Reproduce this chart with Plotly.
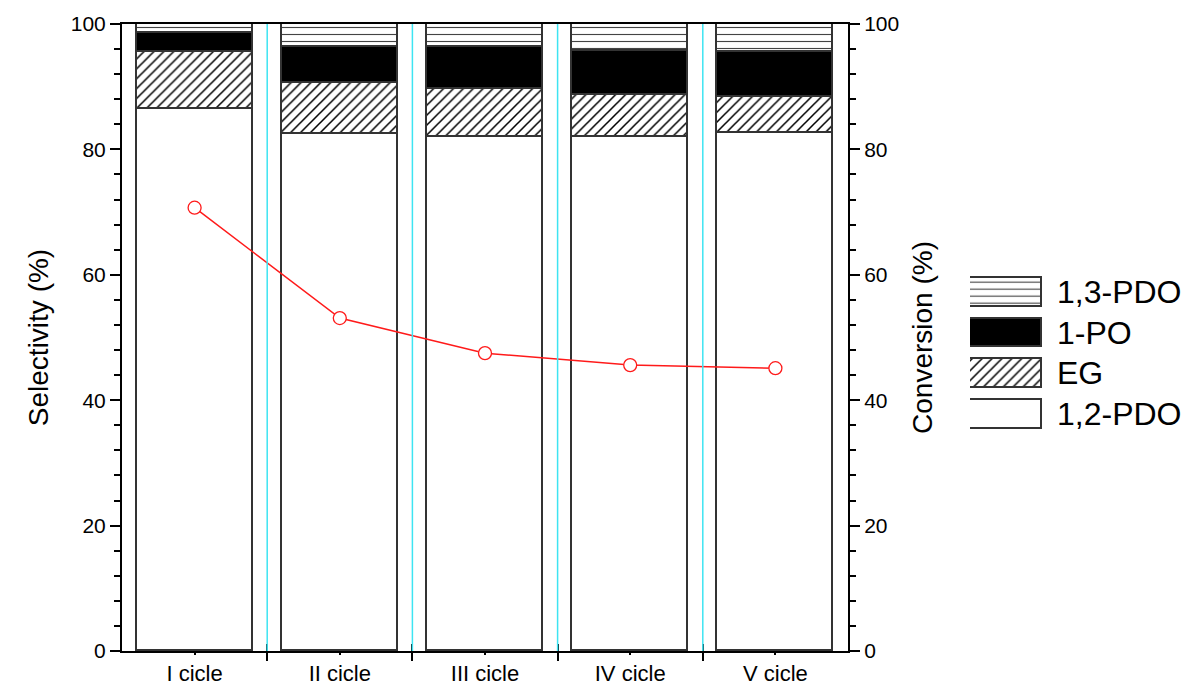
import plotly.graph_objects as go

cycles = ["I cicle", "II cicle", "III cicle", "IV cicle", "V cicle"]
pdo12 = [86.4, 82.5, 82.0, 82.0, 82.6]
eg = [9.1, 8.1, 7.7, 6.6, 5.8]
po1 = [3.0, 5.8, 6.6, 7.1, 7.1]
pdo13 = [1.5, 3.6, 3.7, 4.3, 4.5]
conversion = [70.7, 53.1, 47.5, 45.6, 45.1]

series_names = ["1,2-PDO", "EG", "1-PO", "1,3-PDO"]
series_values = [pdo12, eg, po1, pdo13]

FONT = "Liberation Sans, Arial, sans-serif"
OUTLINE = "#333333"

styles = {
    "1,2-PDO": dict(color="white"),
    "EG": dict(color="white", pattern=dict(shape="/", fgcolor="black", bgcolor="white",
                                            size=7, solidity=0.22, fillmode="replace")),
    "1-PO": dict(color="black"),
    "1,3-PDO": dict(color="white", pattern=dict(shape="-", fgcolor="#444444", bgcolor="white",
                                                 size=7, solidity=0.16, fillmode="replace")),
}

xs = list(range(len(cycles)))
fig = go.Figure()

for name, vals in zip(series_names, series_values):
    st = styles[name]
    marker = dict(color=st["color"], line=dict(color=OUTLINE, width=1.6))
    if "pattern" in st:
        marker["pattern"] = st["pattern"]
    fig.add_trace(go.Bar(x=xs, y=vals, name=name, width=0.8, marker=marker,
                         showlegend=False, xaxis="x", yaxis="y"))

fig.add_trace(go.Scatter(x=xs, y=conversion, mode="lines+markers", name="Conversion",
                         line=dict(color="#ff1a1a", width=1.5),
                         marker=dict(symbol="circle", size=13, color="white",
                                     line=dict(color="#ff1a1a", width=1.3)),
                         showlegend=False, xaxis="x", yaxis="y2"))

# custom legend (large swatches)
legend_order = ["1,2-PDO", "EG", "1-PO", "1,3-PDO"]
for i, name in enumerate(legend_order):
    st = styles[name]
    marker = dict(color=st["color"], line=dict(color=OUTLINE, width=1.6))
    if "pattern" in st:
        marker["pattern"] = st["pattern"]
    fig.add_trace(go.Bar(x=[1], y=[i], orientation="h", width=0.71, marker=marker,
                         showlegend=False, hoverinfo="skip", xaxis="x3", yaxis="y3"))
    fig.add_annotation(x=0.880, y=i, xref="paper", yref="y3", text=name, showarrow=False,
                       xanchor="left", yanchor="middle",
                       font=dict(family=FONT, size=32, color="black"))

# invisible trace to hold the inside-tick axis
fig.add_trace(go.Scatter(x=[0], y=[0], mode="markers", marker=dict(opacity=0),
                         showlegend=False, hoverinfo="skip", xaxis="x2", yaxis="y"))

# cyan separators between cycles
for i in range(len(cycles) - 1):
    fig.add_shape(type="line", x0=i + 0.5, x1=i + 0.5, y0=0, y1=100, xref="x", yref="y",
                  line=dict(color="#3de4f2", width=1.5), layer="above")

dom_x = [0, 726 / 1060]
xtickfont = dict(family=FONT, size=22, color="black")
ytickfont = dict(family=FONT, size=21, color="black")
titlefont = dict(family=FONT, size=28, color="black")

fig.update_layout(
    width=1187, height=687,
    margin=dict(l=122, r=5, t=24, b=36),
    paper_bgcolor="white", plot_bgcolor="white",
    barmode="stack", bargap=0,
    font=dict(family=FONT, color="black"),
    xaxis=dict(domain=dom_x, range=[-0.5, 4.5], tickmode="array", tickvals=xs, ticktext=cycles,
               ticks="outside", ticklen=2, tickwidth=1.5, tickcolor="black",
               showline=True, linewidth=2, linecolor="black", mirror=True, automargin=False,
               showgrid=False, zeroline=False, tickfont=xtickfont,
               minor=dict(tickmode="array", tickvals=[i + 0.5 for i in range(len(cycles) - 1)],
                          ticks="outside", ticklen=8, tickwidth=2, tickcolor="black")),
    xaxis2=dict(domain=dom_x, overlaying="x", anchor="y", side="bottom", range=[-0.5, 4.5],
                tickmode="array", tickvals=[i + 0.5 for i in range(len(cycles) - 1)],
                ticks="inside", ticklen=7, tickwidth=2, tickcolor="black", automargin=False,
                showticklabels=False, showline=False, showgrid=False, zeroline=False),
    yaxis=dict(range=[0, 100], tickmode="linear", tick0=0, dtick=20,
               ticks="outside", ticklen=10, tickwidth=2, tickcolor="black",
               showline=True, linewidth=2, linecolor="black", automargin=False,
               showgrid=False, zeroline=False, tickfont=ytickfont,
               title=dict(text="Selectivity (%)", font=titlefont, standoff=14),
               minor=dict(dtick=4, ticks="outside", ticklen=6, tickwidth=2, tickcolor="black")),
    yaxis2=dict(range=[0, 100], overlaying="y", side="right", anchor="x",
                tickmode="linear", tick0=0, dtick=20,
                ticks="outside", ticklen=10, tickwidth=2, tickcolor="black",
                showline=True, linewidth=2, linecolor="black", automargin=False,
                showgrid=False, zeroline=False, tickfont=ytickfont,
                title=dict(text="Conversion (%)", font=titlefont, standoff=14),
                minor=dict(dtick=4, ticks="outside", ticklen=6, tickwidth=2, tickcolor="black")),
    xaxis3=dict(domain=[0.8, 0.868], range=[0, 1], anchor="y3", visible=False, fixedrange=True),
    yaxis3=dict(domain=[0.3456, 0.605], range=[-0.5, 3.5], anchor="x3", visible=False,
                fixedrange=True),
)

fig.write_html("out.html")
